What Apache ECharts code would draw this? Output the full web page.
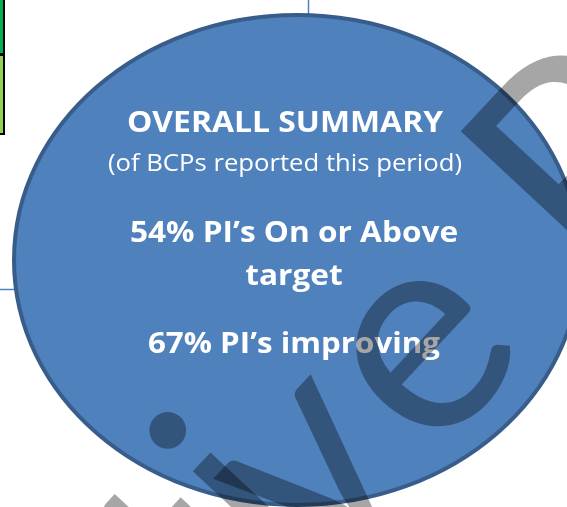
<!DOCTYPE html>
<html>
<head>
	<meta charset="utf-8">
	<script src="https://cdn.jsdelivr.net/npm/echarts@6/dist/echarts.min.js"></script>
	<title>Overall summary</title>
</head>
<body>
<style>
	html, body {
		margin: 0;
		background: #fff;
	}
</style>
<div id="main" style="width:567px;height:507px;"></div>
<script type="text/javascript">
    // summary values (percent of PIs)
    var measures = ['On or Above', 'improving'];
    var percents = [54, 67];
    var headings = ['OVERALL SUMMARY', '(of BCPs reported this period)'];
    // watermark letters
    var wmLetters = ['t', 'i', 'v', 'e', 'P'];

    var myChart = echarts.init(document.getElementById('main'));

    var white = '#ffffff';
    var font = 'Open Sans';

    function label(txt, x, y, size, weight, sx) {
        return {
            type: 'text',
            x: x, y: y, z: 10,
            scaleX: sx,
            style: {
                text: txt,
                fill: white,
                fontFamily: font,
                fontSize: size,
                fontWeight: weight,
                align: 'center', textAlign: 'center',
                verticalAlign: 'middle', textVerticalAlign: 'middle'
            }
        };
    }

    // slanted watermark, one glyph at a time (along / across the baseline)
    var wmAlong = [-318, -232, -165, 0, 247];
    var wmLift = [14, 20, 0, 0, -5];
    var ang = 47 * Math.PI / 180;
    var base = [483, 407];
    var ux = Math.cos(ang), uy = -Math.sin(ang);
    var nx = -Math.sin(ang), ny = -Math.cos(ang);
    var wm = wmLetters.map(function (ch, i) {
        var u = wmAlong[i], n = 95 + wmLift[i];
        return {
            type: 'text',
            x: base[0] + u * ux + n * nx,
            y: base[1] + u * uy + n * ny,
            z: 50,
            rotation: ang,
            style: {
                text: ch,
                fill: 'rgba(0,0,0,0.35)',
                fontFamily: 'Lato',
                fontSize: 290,
                align: 'center', textAlign: 'center',
                verticalAlign: 'middle', textVerticalAlign: 'middle'
            }
        };
    });

    var option = {
        backgroundColor: '#ffffff',
        graphic: [
            // bits of the table behind
            { type: 'rect', z: 1, shape: { x: -10, y: -10, width: 14, height: 64 },
              style: { fill: '#00B050', stroke: '#000', lineWidth: 2 } },
            { type: 'rect', z: 1, shape: { x: -10, y: 55, width: 14, height: 79 },
              style: { fill: '#92D050', stroke: '#000', lineWidth: 2 } },
            { type: 'line', z: 1, shape: { x1: 308.5, y1: 0, x2: 308.5, y2: 20 },
              style: { stroke: '#4F81BD', lineWidth: 1.5 } },
            { type: 'line', z: 1, shape: { x1: 0, y1: 289.5, x2: 20, y2: 289.5 },
              style: { stroke: '#4F81BD', lineWidth: 1.5 } },
            // bubble
            { type: 'ellipse', z: 5, shape: { cx: 297, cy: 260, rx: 283, ry: 245 },
              style: { fill: '#4F81BD', stroke: '#385D8A', lineWidth: 4 } },
            label(headings[0], 285, 124, 29, 'bold', 1.1),
            label(headings[1], 285, 164, 24, 'normal', 1.07),
            label(percents[0] + '% PI\u2019s ' + measures[0], 294, 234, 29, 'bold', 1.09),
            label('target', 294, 277, 29, 'bold', 1.09),
            label(percents[1] + '% PI\u2019s ' + measures[1], 294, 345, 29, 'bold', 1.08)
        ].concat(wm)
    };

    myChart.setOption(option);
</script>
</body>
</html>
